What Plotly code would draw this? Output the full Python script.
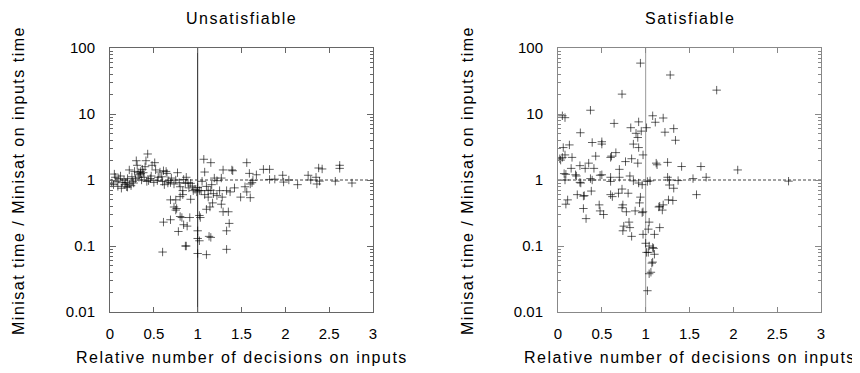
import plotly.graph_objects as go

# ---------------- data ----------------
unsat_x = [0.05,0.08,0.10,0.12,0.14,0.16,0.18,0.19,0.20,0.22,0.22,0.25,0.26,0.28,0.30,0.31,0.32,0.33,0.35,0.35,
           0.37,0.38,0.40,0.41,0.43,0.44,0.47,0.48,0.51,0.52,0.54,0.57,0.59,0.61,0.64,0.65,0.67,0.69,0.70,0.73,
           0.75,0.77,0.79,0.80,0.83,0.84,0.86,0.87,0.89,0.90,0.92,0.94,0.95,0.97,0.99,1.00,1.02,1.04,1.05,1.07,
           1.08,1.12,1.15,1.16,1.19,1.22,1.25,1.27,1.29,1.39,0.69,0.75,0.80,0.83,0.92,0.73,1.27,
           0.02,0.04,0.06,0.09,0.13,0.17,0.20,0.24,0.27,0.29,0.34,0.36,0.39,0.42,0.46,0.50,0.55,0.60,0.62,0.66,
           1.08,1.12,1.18,1.22,1.17,1.28,1.10,1.15,
           1.56,1.40,1.59,1.67,1.75,1.82,1.82,1.88,1.97,1.98,2.04,2.14,2.26,2.29,2.35,2.38,2.42,2.36,2.39,2.57,
           2.62,2.62,1.63,1.62,1.60,1.54,1.56,1.49,1.60,1.42,1.37,1.33,2.76,
           1.35,1.36,1.33,1.33,1.29,1.13,1.15,1.10,1.00,1.00,1.03,1.02,1.14,1.10,1.00,1.02,0.87,0.86,0.60,0.61,
           0.69,0.78,0.80,0.82,0.76,0.75,0.91,0.84,0.88]
unsat_y = [1.23,0.955,1.05,1.15,0.911,1.0,0.911,0.79,1.05,1.42,0.87,1.12,0.955,1.35,1.96,1.67,1.29,1.10,1.26,1.35,
           1.45,1.29,1.59,1.96,2.48,0.977,1.15,1.67,1.83,1.42,0.977,1.32,1.12,1.38,1.35,1.26,0.977,0.911,1.07,0.87,
           1.0,1.29,0.911,0.79,0.69,1.02,0.89,1.10,0.911,0.76,0.89,0.81,0.69,0.72,0.66,0.77,0.69,0.69,0.955,2.06,
           1.32,0.69,1.83,0.85,1.07,0.977,0.69,1.07,1.42,1.42,0.50,0.50,0.56,0.60,0.51,0.39,0.43,
           0.90,0.85,1.10,0.80,0.75,0.85,0.78,0.82,0.90,1.05,1.20,1.00,1.10,0.95,1.05,0.92,1.10,0.95,0.85,0.90,
           0.60,0.55,0.62,0.58,0.45,0.55,0.80,0.70,
           1.83,1.38,1.26,1.20,1.45,1.45,1.02,1.03,1.18,0.93,1.0,0.85,1.18,1.0,1.10,1.52,1.47,0.87,0.96,0.96,
           1.67,1.50,0.99,0.91,0.87,0.79,0.66,0.55,0.54,0.76,0.66,0.69,0.90,
           0.33,0.22,0.17,0.089,0.33,0.14,0.135,0.074,0.077,0.17,0.27,0.29,0.39,0.36,0.13,0.12,0.10,0.10,0.081,0.23,
           0.25,0.166,0.28,0.27,0.37,0.35,0.27,0.21,0.20]

sat_x = [0.94,1.28,1.81,0.73,0.37,0.05,0.08,0.92,1.08,1.11,1.20,0.64,0.83,1.01,1.32,0.95,1.22,0.89,0.255,1.34,
         0.91,0.39,0.50,0.50,0.86,0.92,0.13,0.06,0.03,0.05,0.08,0.02,0.16,0.43,0.61,0.60,0.66,0.97,0.84,0.91,
         0.77,0.70,0.35,0.25,0.31,0.15,0.41,1.12,1.13,1.25,1.41,1.63,2.05,1.69,1.54,2.63,1.25,1.27,1.37,1.05,
         1.02,0.92,0.96,0.86,0.82,0.60,0.60,0.70,0.37,0.39,0.50,0.48,0.20,0.21,0.07,0.09,0.08,0.25,0.26,1.27,
         1.32,1.58,1.26,1.31,1.20,1.15,1.16,1.19,1.16,1.10,1.03,1.04,1.00,1.01,1.03,1.10,1.08,1.09,1.08,1.07,
         1.06,1.04,1.02,1.04,0.97,0.84,0.82,0.81,0.75,0.74,0.78,0.74,0.73,0.88,0.93,0.97,0.96,0.94,0.69,0.80,
         0.73,0.60,0.62,0.38,0.29,0.30,0.22,0.29,0.32,0.47,0.48,0.52,0.11,0.09]
sat_y = [59,39,23,20,11.4,9.4,8.8,7.6,9.4,7.5,8.7,7.2,6.2,6.2,6.0,5.5,5.3,5.1,5.2,4.0,
         4.4,3.7,3.8,3.5,3.5,3.1,3.4,3.1,2.0,2.2,2.4,2.1,2.2,2.3,2.3,2.2,2.6,2.4,2.1,1.8,
         1.9,1.45,1.8,1.65,1.5,1.5,1.5,1.8,1.7,1.85,1.6,1.6,1.42,1.1,1.05,0.96,1.1,1.0,0.98,0.97,
         0.95,0.9,0.85,0.97,1.15,1.1,0.95,1.1,1.05,1.0,1.2,1.18,1.2,1.15,1.25,1.22,1.0,0.92,0.9,0.84,
         0.75,0.6,0.5,0.49,0.42,0.39,0.40,0.35,0.19,0.15,0.18,0.10,0.11,0.08,0.08,0.075,0.095,0.092,0.057,0.055,
         0.04,0.038,0.021,0.23,0.15,0.14,0.19,0.23,0.20,0.17,0.33,0.42,0.38,0.34,0.45,0.33,0.32,0.55,0.63,0.63,
         0.73,0.6,0.56,0.68,0.57,0.58,0.6,0.37,0.26,0.42,0.34,0.30,0.50,0.43]

x_ticks = [0, 0.5, 1, 1.5, 2, 2.5, 3]
x_labels = ["0", "0.5", "1", "1.5", "2", "2.5", "3"]
y_ticks = [0.01, 0.1, 1, 10, 100]
y_labels = ["0.01", "0.1", "1", "10", "100"]
minor_y = [m * 10.0 ** e for e in range(-2, 2) for m in range(2, 10)]

titles = ["Unsatisfiable", "Satisfiable"]
x_title = "Relative number of decisions on inputs"
y_title = "Minisat time / Minisat on inputs time"

# ---------------- figure ----------------
W, H = 860, 373
OFF = 8  # page body margin of the html wrapper
FONT = "Liberation Sans, Arial, sans-serif"


def px(v):
    return (v - OFF) / W


def py(v):
    return 1 - (v - OFF) / H


def spaced(t, s=1.5):
    return '<span style="letter-spacing:%spx">%s</span>' % (s, t)


fig = go.Figure()

panels = [(unsat_x, unsat_y, "x", "y", "#222222"),
          (sat_x, sat_y, "x2", "y2", "#999999")]

for xs, ys, xa, ya, vcol in panels:
    fig.add_trace(go.Scatter(x=[1, 1], y=[0.01, 100], mode="lines", xaxis=xa, yaxis=ya,
                             line=dict(color=vcol, width=1), hoverinfo="skip", showlegend=False))
    fig.add_trace(go.Scatter(x=[0, 3], y=[1, 1], mode="lines", xaxis=xa, yaxis=ya,
                             line=dict(color="#444444", width=1, dash="3px,2px"),
                             hoverinfo="skip", showlegend=False))
    fig.add_trace(go.Scatter(x=xs, y=ys, mode="markers", xaxis=xa, yaxis=ya, showlegend=False,
                             marker=dict(symbol="cross-thin", size=6,
                                         line=dict(width=1, color="rgba(0,0,0,0.62)"))))

doms = [(110, 373), (558, 821)]
ydom = [py(312), py(48)]
frames = ["#666666", "#888888"]
for i, (a, b) in enumerate(doms):
    sx = "" if i == 0 else "2"
    fig.update_layout(**{
        "xaxis" + sx: dict(domain=[px(a), px(b)], range=[0, 3], tickvals=x_ticks, ticktext=x_labels,
                           ticks="inside", ticklen=5, tickcolor=frames[i], showline=True,
                           linecolor=frames[i], linewidth=1, mirror="allticks", showgrid=False,
                           zeroline=False, ticklabelstandoff=8, automargin=False,
                           tickfont=dict(family=FONT, size=15, color="#000"),
                           anchor="y" + sx),
        "yaxis" + sx: dict(domain=ydom, type="log", range=[-2, 2], tickvals=y_ticks, ticktext=y_labels,
                           ticks="inside", ticklen=6, tickcolor=frames[i], showline=True,
                           linecolor=frames[i], linewidth=1, mirror="allticks", showgrid=False,
                           zeroline=False, ticklabelstandoff=11, automargin=False,
                           minor=dict(tickvals=minor_y, ticks="inside", ticklen=3,
                                      tickcolor=frames[i], showgrid=False),
                           tickfont=dict(family=FONT, size=15, color="#000"),
                           anchor="x" + sx),
    })

ann = []
tfont = dict(family=FONT, size=16, color="#000")
for i, (a, b) in enumerate(doms):
    cx = px((a + b) / 2)
    ann.append(dict(text=spaced(titles[i]), x=cx, y=py(18), xref="paper", yref="paper",
                    showarrow=False, font=tfont, xanchor="center", yanchor="middle"))
    ann.append(dict(text=spaced(x_title), x=cx, y=py(357), xref="paper", yref="paper",
                    showarrow=False, font=tfont, xanchor="center", yanchor="middle"))
for cxp in (18, 467):
    ann.append(dict(text=spaced(y_title), x=px(cxp), y=py(181), xref="paper", yref="paper",
                    textangle=-90, showarrow=False, font=tfont, xanchor="center", yanchor="middle"))

fig.update_layout(width=W, height=H, margin=dict(l=0, r=0, t=0, b=0),
                  paper_bgcolor="white", plot_bgcolor="white", annotations=ann,
                  font=dict(family=FONT))

fig.write_html("out.html")
